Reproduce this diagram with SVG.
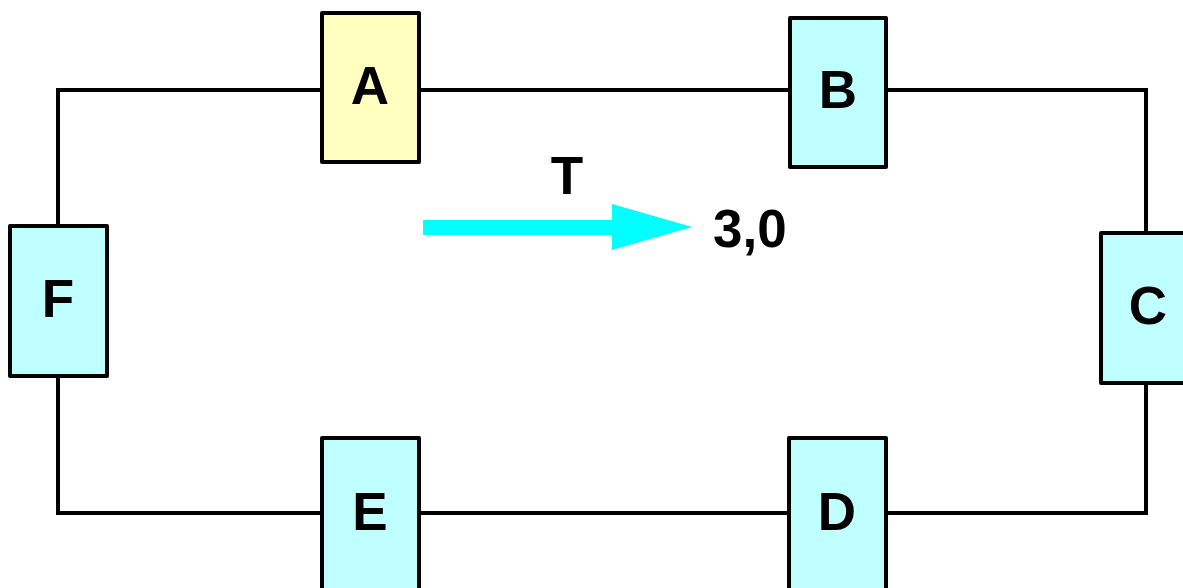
<svg xmlns="http://www.w3.org/2000/svg" width="1183" height="588" viewBox="0 0 1183 588">
<style>
.box{stroke:#000;stroke-width:4;stroke-linejoin:round}
.cy{fill:#bfffff}
.ye{fill:#ffffbf}
.lbl{font-family:"Liberation Sans",Arial,sans-serif;font-weight:bold;font-size:53px;fill:#000;text-anchor:middle}
.wire{stroke:#000;stroke-width:4;fill:none}
</style>
<rect width="1183" height="588" fill="#fff"/>
<g id="connectors">
<path class="wire" d="M58,225 V90 H322 M419,90 H790 M886,90 H1146 V233 M1146,383 V513 H886 M789,513 H419 M322,513 H58 V376"/>
<g id="arrow">
<rect x="423" y="220" width="190" height="15" fill="#00ffff"/>
<polygon points="612,204 692,227 612,250" fill="#00ffff"/>
</g>
</g>
<g id="A"><rect class="box ye" x="322" y="13" width="97" height="149"/><text class="lbl" x="370" y="104">A</text></g>
<g id="B"><rect class="box cy" x="790" y="18" width="96" height="149"/><text class="lbl" x="838" y="108">B</text></g>
<g id="C"><rect class="box cy" x="1101" y="233" width="100" height="150"/><text class="lbl" x="1148" y="324">C</text></g>
<g id="D"><rect class="box cy" x="789" y="438" width="97" height="160"/><text class="lbl" x="837" y="530">D</text></g>
<g id="E"><rect class="box cy" x="322" y="438" width="97" height="160"/><text class="lbl" x="370" y="530">E</text></g>
<g id="F"><rect class="box cy" x="10" y="226" width="97" height="150"/><text class="lbl" x="58" y="317">F</text></g>
<text class="lbl" x="567" y="194">T</text>
<text class="lbl" x="713" y="247" style="text-anchor:start">3,0</text>
</svg>
